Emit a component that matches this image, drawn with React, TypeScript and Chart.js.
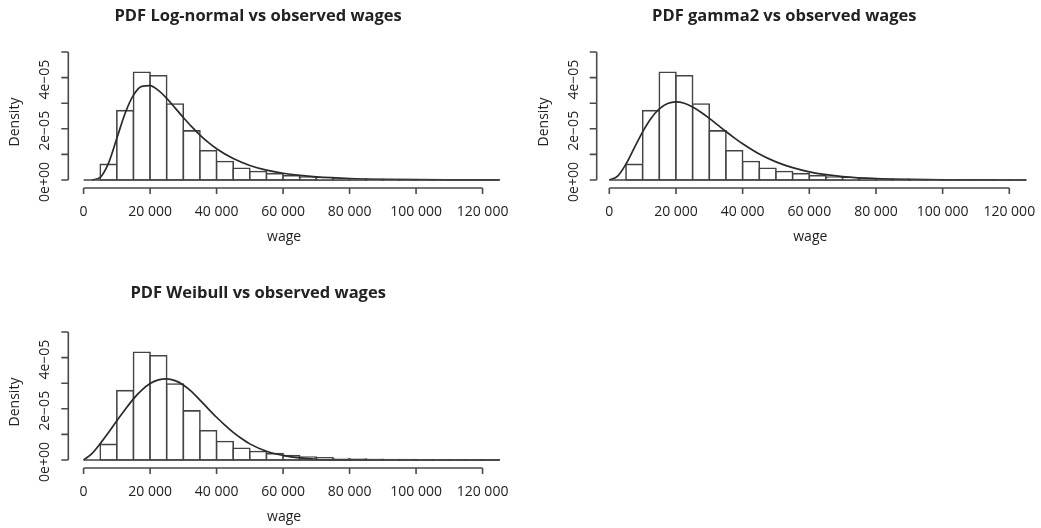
import React, { useEffect, useRef } from "react";
import { Chart, registerables } from "chart.js";

Chart.register(...registerables);

// ---------- data ----------
const binWidth = 5000;
const binStarts = [
  0, 5000, 10000, 15000, 20000, 25000, 30000, 35000, 40000, 45000, 50000, 55000,
  60000, 65000, 70000, 75000, 80000, 85000, 90000, 95000, 100000, 105000, 110000,
  115000, 120000,
];
const histDensity = [
  0, 0.61e-5, 2.71e-5, 4.21e-5, 4.07e-5, 2.97e-5, 1.92e-5, 1.14e-5, 0.72e-5, 0.46e-5,
  0.33e-5, 0.25e-5, 0.17e-5, 0.12e-5, 0.09e-5, 0.06e-5, 0.04e-5, 0.03e-5, 0.02e-5,
  0.02e-5, 0.01e-5, 0.01e-5, 0.005e-5, 0.005e-5, 0.003e-5,
];

const lognormalX = [
  2500, 5000, 7500, 10000, 12500, 15000, 17500, 20000, 22500, 25000, 27500, 30000,
  32500, 35000, 37500, 40000, 45000, 50000, 55000, 60000, 65000, 70000, 80000, 90000,
  100000, 110000, 120000, 125000,
];
const lognormalY = [
  0.001e-5, 0.105e-5, 0.66e-5, 1.63e-5, 2.61e-5, 3.315e-5, 3.658e-5, 3.687e-5, 3.5e-5,
  3.188e-5, 2.819e-5, 2.441e-5, 2.082e-5, 1.756e-5, 1.47e-5, 1.223e-5, 0.838e-5,
  0.569e-5, 0.387e-5, 0.263e-5, 0.18e-5, 0.123e-5, 0.059e-5, 0.029e-5, 0.015e-5,
  0.008e-5, 0.004e-5, 0.003e-5,
];

const gammaX = [
  0, 2500, 5000, 7500, 10000, 12500, 15000, 17500, 20000, 22500, 25000, 27500, 30000,
  32500, 35000, 37500, 40000, 45000, 50000, 55000, 60000, 65000, 70000, 80000, 90000,
  100000, 110000, 120000, 125000,
];
const gammaY = [
  0, 0.15e-5, 0.622e-5, 1.254e-5, 1.882e-5, 2.406e-5, 2.778e-5, 2.986e-5, 3.051e-5,
  2.997e-5, 2.853e-5, 2.649e-5, 2.409e-5, 2.153e-5, 1.896e-5, 1.648e-5, 1.417e-5,
  1.017e-5, 0.709e-5, 0.481e-5, 0.32e-5, 0.21e-5, 0.135e-5, 0.054e-5, 0.021e-5,
  0.008e-5, 0.003e-5, 0.001e-5, 0.001e-5,
];

const weibullX = [
  0, 2500, 5000, 7500, 10000, 12500, 15000, 17500, 20000, 22500, 25000, 27500, 30000,
  32500, 35000, 37500, 40000, 42500, 45000, 47500, 50000, 55000, 60000, 65000, 70000,
  75000, 80000, 90000, 100000, 110000, 120000, 125000,
];
const weibullY = [
  0, 0.25e-5, 0.64e-5, 1.07e-5, 1.53e-5, 1.97e-5, 2.39e-5, 2.73e-5, 2.986e-5, 3.13e-5,
  3.17e-5, 3.1e-5, 2.93e-5, 2.67e-5, 2.34e-5, 2.0e-5, 1.67e-5, 1.36e-5, 1.08e-5,
  0.84e-5, 0.63e-5, 0.34e-5, 0.18e-5, 0.08e-5, 0.03e-5, 0.01e-5, 0.003e-5, 0, 0, 0, 0, 0,
];

const yTickValues = [0, 1e-5, 2e-5, 3e-5, 4e-5, 5e-5];
const yTickLabels = ["0e+00", "", "2e\u221205", "", "4e\u221205", ""];
const xTickValues = [0, 20000, 40000, 60000, 80000, 100000, 120000];
const xTickLabels = ["0", "20 000", "40 000", "60 000", "80 000", "100 000", "120 000"];

const Y_MIN = -0.3125e-5;
const Y_MAX = 5.2e-5;
const X_MAX = 126000;

const FONT = '"Open Sans", "DejaVu Sans", sans-serif';
const TEXT_COLOR = "#222";
const AXIS_COLOR = "#4a4a4a";

type PanelCfg = {
  title: string;
  curveX: number[];
  curveY: number[];
  left: number;
  top: number;
  width: number;
  height: number;
  padLeft: number;
  padRight: number;
  padTop: number;
  padBottom: number;
  xMin: number;
  titleY: number;
};

const panels: PanelCfg[] = [
  {
    title: "PDF Log-normal vs observed wages",
    curveX: lognormalX,
    curveY: lognormalY,
    left: 0, top: 0, width: 520, height: 260,
    padLeft: 68.3, padRight: 17.5, padTop: 46.9, padBottom: 72,
    xMin: -4600, titleY: 21,
  },
  {
    title: "PDF gamma2 vs observed wages",
    curveX: gammaX,
    curveY: gammaY,
    left: 520, top: 0, width: 521, height: 260,
    padLeft: 76.7, padRight: 11.7, padTop: 46.9, padBottom: 72,
    xMin: -3780, titleY: 21,
  },
  {
    title: "PDF Weibull vs observed wages",
    curveX: weibullX,
    curveY: weibullY,
    left: 0, top: 280, width: 520, height: 248,
    padLeft: 68.3, padRight: 17.5, padTop: 46.9, padBottom: 60,
    xMin: -4600, titleY: 18,
  },
];

function makeAxesPlugin(cfg: PanelCfg) {
  return {
    id: "rStyleAxes",
    afterDatasetsDraw(chart: any) {
      const { ctx, scales } = chart;
      const x = scales.x, y = scales.y;
      ctx.save();
      ctx.strokeStyle = "#444";
      ctx.lineWidth = 1.6;
      ctx.beginPath();
      const py = y.getPixelForValue(0);
      ctx.moveTo(x.getPixelForValue(binStarts[0]), py);
      ctx.lineTo(x.getPixelForValue(binStarts[binStarts.length - 1] + binWidth), py);
      ctx.stroke();
      ctx.restore();
    },
    afterDraw(chart: any) {
      const { ctx, scales, chartArea } = chart;
      const x = scales.x, y = scales.y;
      const ax = chartArea.left;
      const by = chartArea.bottom;
      ctx.save();
      ctx.strokeStyle = AXIS_COLOR;
      ctx.lineWidth = 1.6;
      ctx.fillStyle = TEXT_COLOR;

      // y axis
      const yA = y.getPixelForValue(yTickValues[0]);
      const yB = y.getPixelForValue(yTickValues[yTickValues.length - 1]);
      ctx.beginPath();
      ctx.moveTo(ax, yA);
      ctx.lineTo(ax, yB);
      yTickValues.forEach((v) => {
        const p = y.getPixelForValue(v);
        ctx.moveTo(ax, p);
        ctx.lineTo(ax - 7, p);
      });
      ctx.stroke();
      ctx.font = `14px ${FONT}`;
      ctx.textAlign = "center";
      ctx.textBaseline = "alphabetic";
      yTickValues.forEach((v, i) => {
        if (!yTickLabels[i]) return;
        const p = y.getPixelForValue(v);
        ctx.save();
        ctx.translate(ax - 19, p + 2);
        ctx.rotate(-Math.PI / 2);
        ctx.fillText(yTickLabels[i], 0, 0);
        ctx.restore();
      });
      ctx.save();
      ctx.translate(ax - 49, (yA + yB) / 2 + 6);
      ctx.rotate(-Math.PI / 2);
      ctx.fillText("Density", 0, 0);
      ctx.restore();

      // x axis
      const xA = x.getPixelForValue(xTickValues[0]);
      const xB = x.getPixelForValue(xTickValues[xTickValues.length - 1]);
      ctx.beginPath();
      ctx.moveTo(xA, by);
      ctx.lineTo(xB, by);
      xTickValues.forEach((v) => {
        const p = x.getPixelForValue(v);
        ctx.moveTo(p, by);
        ctx.lineTo(p, by + 6);
      });
      ctx.stroke();
      xTickValues.forEach((v, i) => {
        ctx.fillText(xTickLabels[i], x.getPixelForValue(v), by + 28);
      });
      ctx.fillText("wage", (xA + xB) / 2 + 1, by + 53);

      // title
      ctx.font = `bold 16.5px ${FONT}`;
      ctx.fillText(cfg.title, x.getPixelForValue(52500), cfg.titleY);
      ctx.restore();
    },
  };
}

function Panel({ cfg }: { cfg: PanelCfg }) {
  const ref = useRef<HTMLCanvasElement>(null);
  useEffect(() => {
    const canvas = ref.current;
    if (!canvas) return;
    const chart = new Chart(canvas, {
      type: "bar",
      data: {
        datasets: [
          {
            type: "line",
            data: cfg.curveX.map((xv, i) => ({ x: xv, y: cfg.curveY[i] })),
            borderColor: "#2a2a2a",
            borderWidth: 1.7,
            pointRadius: 0,
            cubicInterpolationMode: "monotone",
            fill: false,
            order: 0,
          } as any,
          {
            type: "bar",
            data: binStarts.map((s, i) => ({ x: s + binWidth / 2, y: histDensity[i] })),
            backgroundColor: "#ffffff",
            borderColor: "#444444",
            borderWidth: 1.6,
            inflateAmount: 0.8,
            borderSkipped: false,
            barPercentage: 1,
            categoryPercentage: 1,
            grouped: false,
            order: 1,
          } as any,
        ],
      },
      options: {
        responsive: false,
        maintainAspectRatio: false,
        animation: false,
        events: [],
        layout: {
          padding: {
            left: cfg.padLeft,
            right: cfg.padRight,
            top: cfg.padTop,
            bottom: cfg.padBottom,
          },
        },
        plugins: {
          legend: { display: false },
          tooltip: { enabled: false },
          title: { display: false },
        },
        scales: {
          x: { type: "linear", display: false, min: cfg.xMin, max: X_MAX, offset: false },
          y: { type: "linear", display: false, min: Y_MIN, max: Y_MAX },
        },
      } as any,
      plugins: [makeAxesPlugin(cfg)],
    });
    return () => chart.destroy();
  }, [cfg]);
  return (
    <canvas
      ref={ref}
      width={cfg.width}
      height={cfg.height}
      style={{
        position: "absolute",
        left: cfg.left,
        top: cfg.top,
        width: cfg.width,
        height: cfg.height,
      }}
    />
  );
}

export default function App() {
  return (
    <div
      style={{
        position: "absolute",
        left: 0,
        top: 0,
        width: 1041,
        height: 528,
        background: "#ffffff",
        overflow: "hidden",
      }}
    >
      {panels.map((p) => (
        <Panel key={p.title} cfg={p} />
      ))}
    </div>
  );
}
